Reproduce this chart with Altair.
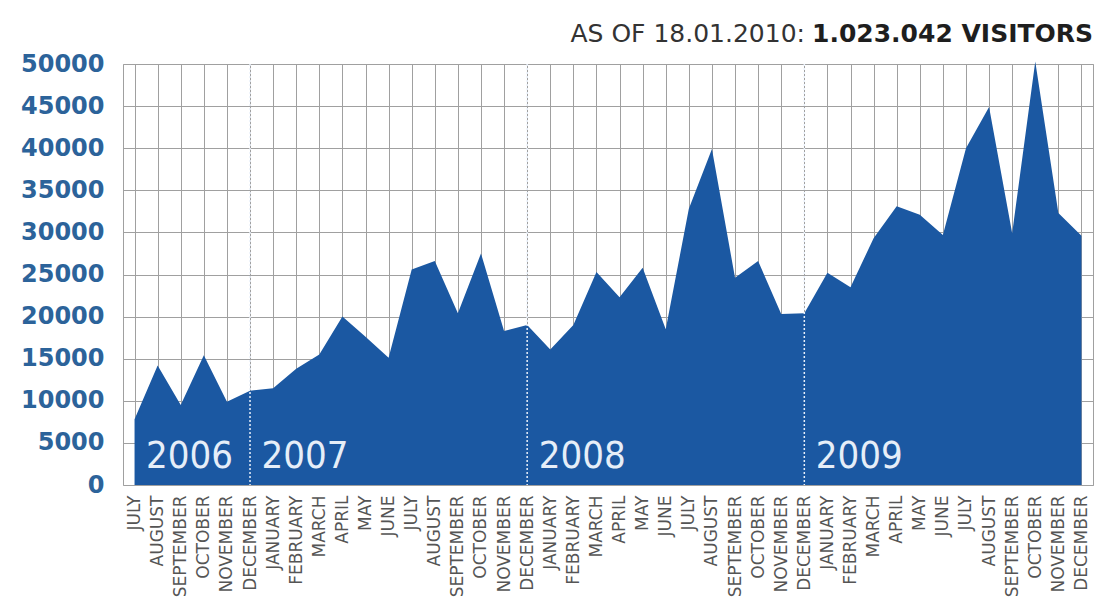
import json
import altair as alt
import pandas as pd

# Monthly visitor counts, July 2006 - December 2009
month_names = ["JANUARY", "FEBRUARY", "MARCH", "APRIL", "MAY", "JUNE",
               "JULY", "AUGUST", "SEPTEMBER", "OCTOBER", "NOVEMBER", "DECEMBER"]
month_labels = month_names[6:] + month_names * 3

visitors = [7800, 14200, 9500, 15400, 9900, 11200,
            11500, 13800, 15500, 20000, 17600, 15100,
            25600, 26600, 20400, 27500, 18300, 19000,
            16100, 19000, 25300, 22300, 25800, 18500,
            32800, 39900, 24600, 26600, 20300, 20400,
            25200, 23500, 29300, 33100, 32100, 29700,
            40000, 44900, 29900, 50300, 32300, 29600]

years = ["2006", "2007", "2008", "2009"]
year_first_month = [0, 6, 18, 30]          # index of the first month of each year
y_ticks = list(range(0, 50001, 5000))

title_plain = "AS OF 18.01.2010:"
title_bold = "1.023.042 VISITORS"

n = len(visitors)
df = pd.DataFrame({"i": list(range(n)), "month": month_labels, "visitors": visitors})

# December of each completed year separates the years
dividers = pd.DataFrame({"i": [s - 1 for s in year_first_month[1:]]})
year_text = pd.DataFrame({
    "i": [max(s - 0.5, 0.5) for s in year_first_month],
    "year": years,
})
heading = pd.DataFrame({"plain": [title_plain], "bold": [title_bold]})

GRID = "#a0a0a0"
label_expr = json.dumps(month_labels) + "[datum.value]"

x_enc = alt.X(
    "i:Q",
    scale=alt.Scale(domain=[-0.5, n - 0.5], nice=False, zero=False),
    axis=alt.Axis(
        values=list(range(n)), labelExpr=label_expr, title=None,
        labelAngle=270, labelAlign="right", labelBaseline="middle",
        labelPadding=10, labelFont="DejaVu Sans", labelFontSize=17,
        labelColor="#555555", labelOverlap=False, labelFlush=False,
        labelBound=False, ticks=False, domain=False,
        grid=True, gridColor=GRID, gridWidth=1,
    ),
)
y_enc = alt.Y(
    "visitors:Q",
    scale=alt.Scale(domain=[0, 50000], nice=False),
    axis=alt.Axis(
        values=y_ticks, format="d", title=None,
        labelFont="DejaVu Sans", labelFontWeight="bold", labelFontSize=24,
        labelColor="#2c639a", labelPadding=19, ticks=False, domain=False,
        grid=True, gridColor=GRID, gridWidth=1,
    ),
)

area = alt.Chart(df).mark_area(color="#1b58a2", opacity=1).encode(x=x_enc, y=y_enc)

rules = alt.Chart(dividers).mark_rule(
    color="#e9f0fa", strokeDash=[2, 2], strokeWidth=1.5
).encode(x=x_enc, y=alt.value(0), y2=alt.value(421))

year_labels = alt.Chart(year_text).mark_text(
    align="left", baseline="alphabetic", font="DejaVu Sans Condensed",
    fontSize=38, color="#e6eef8",
).encode(x=x_enc, y=alt.value(404), text="year:N")

head_bold = alt.Chart(heading).mark_text(
    align="right", baseline="alphabetic",
    font="DejaVu Sans", fontSize=25, fontWeight="bold", color="#1e1e1e",
).encode(x=alt.value(970), y=alt.value(-22), text="bold:N")

head_plain = alt.Chart(heading).mark_text(
    align="right", baseline="alphabetic",
    font="DejaVu Sans", fontSize=25, color="#333333",
).encode(x=alt.value(970 - 288), y=alt.value(-22), text="plain:N")

chart = alt.layer(area, rules, year_labels, head_bold, head_plain).properties(
    width=970, height=421,
    padding={"left": 123, "top": 64, "right": 5, "bottom": 130},
    autosize=alt.AutoSizeParams(type="none"),
    background="white",
).configure_view(stroke=GRID).configure_axisX(labelOverlap=False)

chart.save("out.html", embed_options={"renderer": "svg", "actions": False})
